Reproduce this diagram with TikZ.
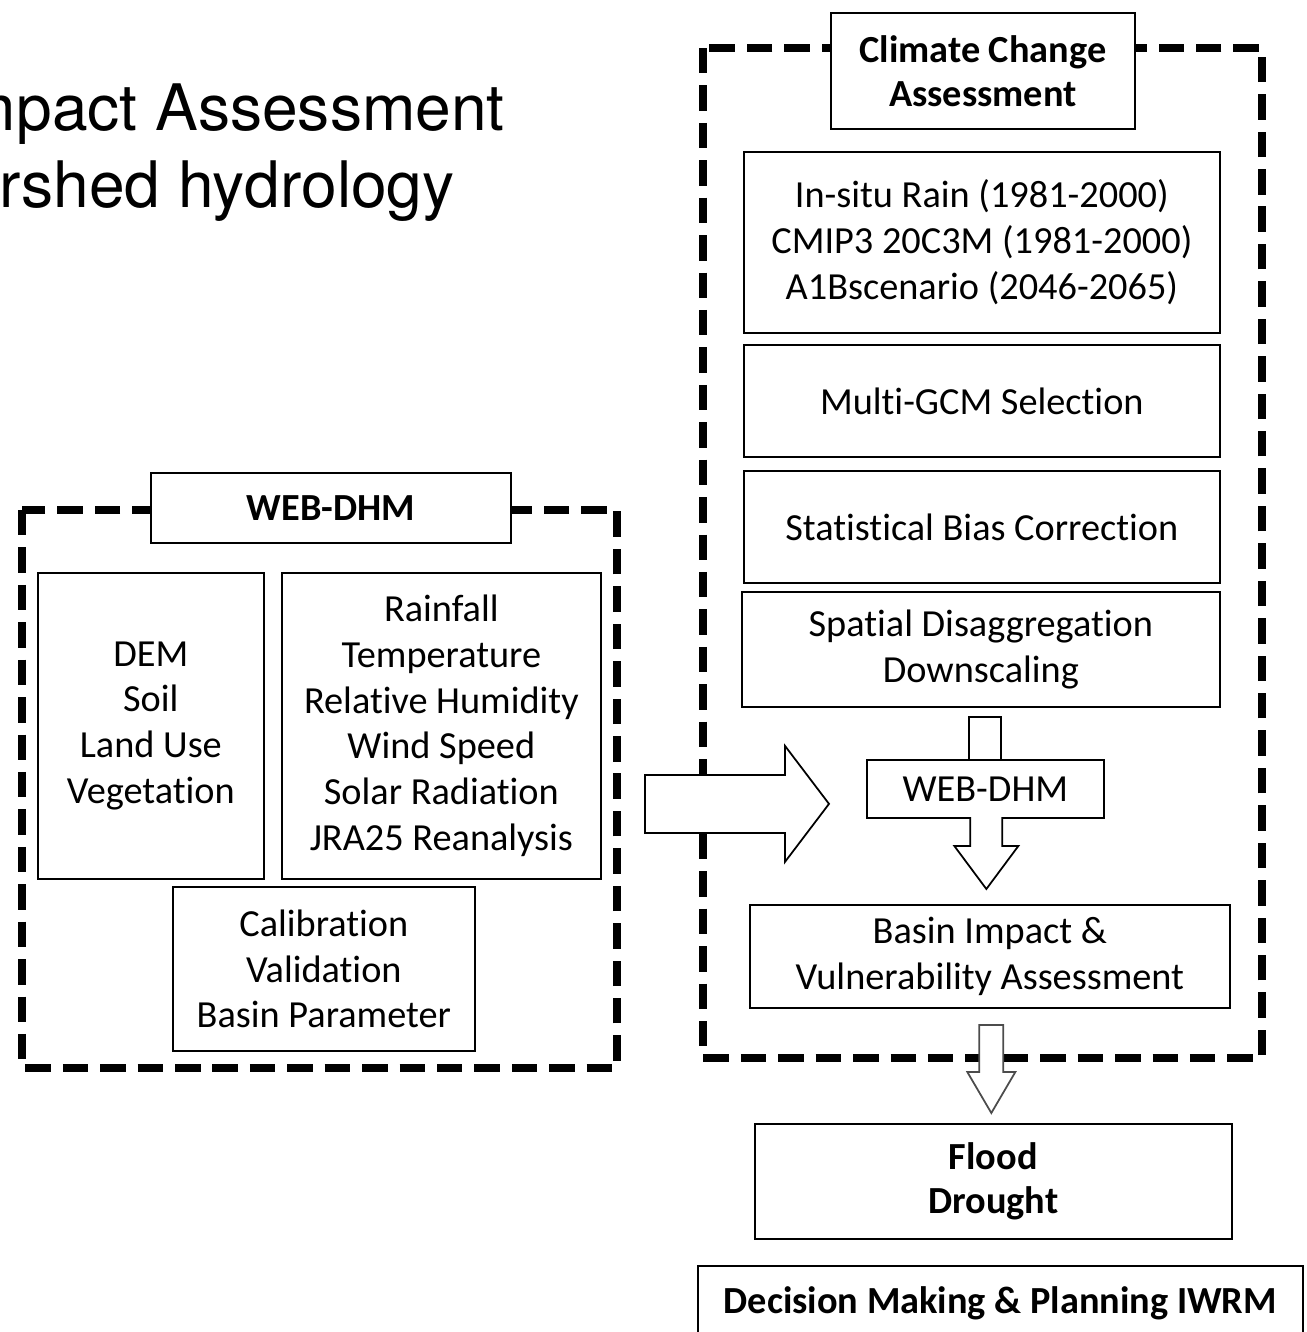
\documentclass[tikz,border=0pt]{standalone}
\usepackage{fontspec}
\setmainfont{Carlito}[Ligatures={NoCommon}]
\newfontfamily\helv{TeX Gyre Heros}
\usepackage{xcolor}
\usepackage{tikz}
\usetikzlibrary{calc}

\tikzset{
  box/.style={draw, line width=1pt, fill=white, align=center, inner sep=0pt, anchor=north west, font=\fontsize{21.8}{26.1}\selectfont},
  hbox/.style={box, font=\fontsize{21.8}{25}\selectfont\bfseries},
  frame/.style={line width=4.2pt, dash pattern=on 14.5pt off 6.8pt},
  blk/.style={draw, line width=1pt, fill=white, line join=miter},
}

\begin{document}
\begin{tikzpicture}[x=0.02cm,y=-0.02cm]
    \useasboundingbox (0,0) rectangle (1306,1332);
    \clip (0,0) rectangle (1306,1332);
    % title (cut off at the left)
    \node[anchor=base east, inner sep=0pt, font=\helv\fontsize{36.5}{44}\selectfont] (title1) at (505,130) {mpact Assessment};
    \node[anchor=base east, inner sep=0pt, font=\helv\fontsize{36.5}{44}\selectfont] (title2) at (455,207) {rshed hydrology};
    % dashed frames
    \draw[frame] (22,510) rectangle (617,1068);
    \draw[frame] (703,48) rectangle (1262,1058);
    % WEB-DHM panel
    \node[hbox, minimum width=7.2cm, minimum height=1.4cm] (webt) at (150,472) {WEB-DHM};
    \node[box, minimum width=4.52cm, minimum height=6.12cm] (dem) at (37,572) {DEM\\Soil\\Land Use\\Vegetation};
    \node[box, minimum width=6.38cm, minimum height=6.12cm] (met) at (281,572) {Rainfall\\Temperature\\Relative Humidity\\Wind Speed\\Solar Radiation\\JRA25 Reanalysis};
    \node[box, minimum width=6.04cm, minimum height=3.28cm] (calib) at (172,886) {Calibration\\Validation\\Basin Parameter};
    % climate change panel
    \node[hbox, minimum width=6.08cm, minimum height=2.32cm] (cca) at (830,12) {Climate Change\\Assessment};
    \node[box, minimum width=9.52cm, minimum height=3.62cm] (insitu) at (743,151) {In-situ Rain (1981-2000)\\CMIP3 20C3M (1981-2000)\\A1Bscenario (2046-2065)};
    \node[box, minimum width=9.52cm, minimum height=2.24cm] (gcm) at (743,344) {Multi-GCM Selection};
    \node[box, minimum width=9.52cm, minimum height=2.24cm] (bias) at (743,470) {Statistical Bias Correction};
    \node[box, minimum width=9.56cm, minimum height=2.3cm] (spat) at (741,591) {Spatial Disaggregation\\Downscaling};
    \node[box, minimum width=4.74cm, minimum height=1.16cm] (wdhm) at (866,759) {WEB-DHM};
    \node[box, minimum width=9.6cm, minimum height=2.06cm] (basin) at (749,904) {Basin Impact \&\\Vulnerability Assessment};
    \node[hbox, minimum width=9.54cm, minimum height=2.3cm] (flood) at (754,1123) {Flood\\Drought};
    \node[hbox, minimum width=12.1cm, minimum height=1.5cm] (dec) at (697,1265) {Decision Making \& Planning IWRM};
    % block arrows
    \coordinate (tip1) at ($(wdhm.west)+(-37,15)$);
    \draw[blk] ($(tip1)+(-184,-29)$) -- ($(tip1)+(-44,-29)$) -- ($(tip1)+(-44,-58)$) -- (tip1)
      -- ($(tip1)+(-44,58)$) -- ($(tip1)+(-44,29)$) -- ($(tip1)+(-184,29)$) -- cycle;
    \draw[blk] ($(wdhm.north)+(-16,0)$) -- ++(0,-42) -- ++(32,0) -- ++(0,42);
    \coordinate (tip2) at ($(wdhm.south |- basin.north)+(1,-15)$);
    \draw[blk] ($(tip2)+(-16,-72)$) -- ($(tip2)+(-16,-43)$) -- ($(tip2)+(-32,-43)$) -- (tip2)
      -- ($(tip2)+(32,-43)$) -- ($(tip2)+(16,-43)$) -- ($(tip2)+(16,-72)$);
    \coordinate (tip3) at ($(flood.north)+(-2,-10)$);
    \draw[blk, draw=black!70] ($(tip3)+(-12,-88)$) -- ($(tip3)+(-12,-41)$) -- ($(tip3)+(-24,-41)$) -- (tip3)
      -- ($(tip3)+(24,-41)$) -- ($(tip3)+(12,-41)$) -- ($(tip3)+(12,-88)$) -- cycle;
\end{tikzpicture}
\end{document}
